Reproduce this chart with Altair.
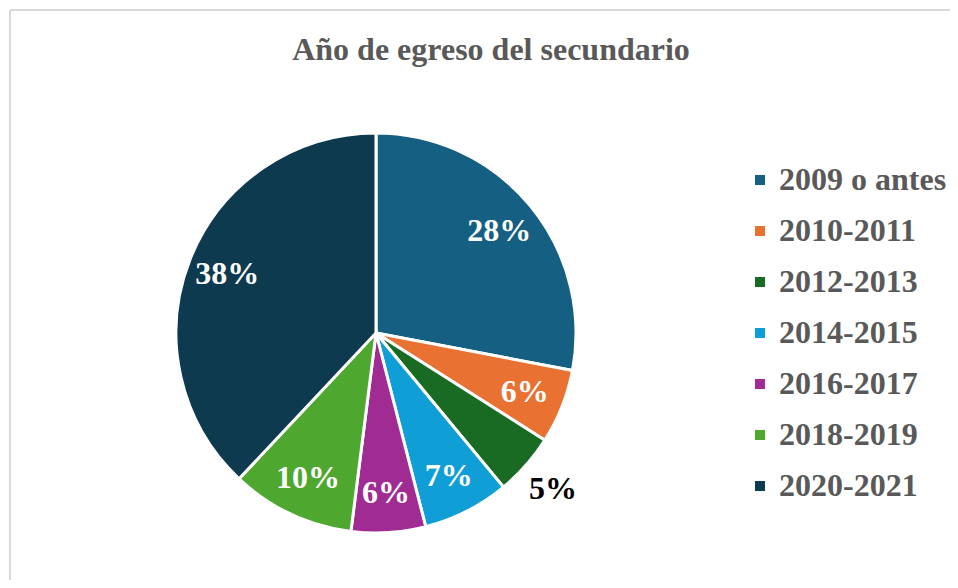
import altair as alt
import pandas as pd

categories = ["2009 o antes", "2010-2011", "2012-2013", "2014-2015", "2016-2017", "2018-2019", "2020-2021"]
values = [28, 6, 5, 7, 6, 10, 38]
colors = ["#156082", "#E97132", "#196B24", "#0F9ED5", "#A02B93", "#4EA72E", "#0E3A50"]
title_text = "Año de egreso del secundario"
outside_label = "2012-2013"

df = pd.DataFrame({
    "cat": categories,
    "val": values,
    "ord": list(range(len(categories))),
    "lab": [f"{v}%" for v in values],
})

W, H = 942, 572
CX, CY, R = 368, 325, 200
FONT = "Liberation Serif"

pie = alt.Chart(df).mark_arc(radius=R, stroke="white", strokeWidth=3).encode(
    theta=alt.Theta("val:Q", stack=True),
    order=alt.Order("ord:Q"),
    x=alt.value(CX),
    y=alt.value(CY),
    color=alt.Color(
        "cat:N",
        sort=categories,
        scale=alt.Scale(domain=categories, range=colors),
        legend=alt.Legend(
            title=None,
            orient="none",
            legendX=736,
            legendY=156,
            symbolType="square",
            symbolSize=100,
            symbolStrokeWidth=0,
            labelFont=FONT,
            labelFontSize=32,
            labelFontWeight="bold",
            labelColor="#595959",
            labelOffset=3,
            rowPadding=19,
            labelLimit=400,
        ),
    ),
)

labels_base = alt.Chart(df).transform_window(
    cum="sum(val)", sort=[alt.SortField("ord")], frame=[None, 0]
).transform_calculate(
    mid="datum.cum - datum.val / 2"
).encode(
    theta=alt.Theta("mid:Q", stack=None),
    x=alt.value(CX),
    y=alt.value(CY),
    text="lab:N",
)

inner_text = labels_base.transform_filter(alt.datum.cat != outside_label).mark_text(
    radius=160, font=FONT, fontSize=32, fontWeight="bold", color="white"
)

outer_text = labels_base.transform_filter(alt.datum.cat == outside_label).mark_text(
    radius=236, font=FONT, fontSize=32, fontWeight="bold", color="black"
)

one = pd.DataFrame({"t": [title_text]})

title = alt.Chart(one).mark_text(
    font=FONT, fontSize=32, fontWeight="bold", color="#595959", baseline="middle", align="center"
).encode(text="t:N", x=alt.value(483), y=alt.value(42))

border_v = alt.Chart(one).mark_rule(color="#D9D9D9", strokeWidth=2).encode(
    x=alt.value(2), y=alt.value(2), y2=alt.value(H)
)
border_h = alt.Chart(one).mark_rule(color="#D9D9D9", strokeWidth=2).encode(
    x=alt.value(2), x2=alt.value(W), y=alt.value(2)
)

chart = alt.layer(border_v, border_h, pie, inner_text, outer_text, title).properties(
    width=W,
    height=H,
    autosize=alt.AutoSizeParams(type="none"),
    padding=0,
    background="white",
).configure_view(stroke=None)

chart.save("out.html", embed_options={"renderer": "svg", "actions": False})
